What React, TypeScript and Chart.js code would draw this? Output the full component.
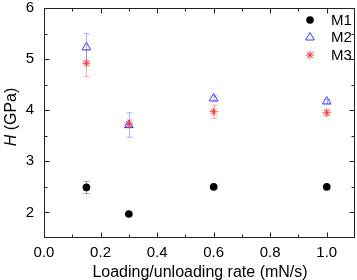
import React, { useEffect, useRef } from "react";
import { Chart, registerables } from "chart.js";

Chart.register(...registerables);

const rates = [0.15, 0.3, 0.6, 1.0];
const m1Values = [2.49, 1.97, 2.5, 2.5];
const m1Errors = [0.12, 0.03, 0.03, 0.03];
const m2Values = [5.23, 3.71, 4.23, 4.17];
const m2Errors = [0.27, 0.24, 0.05, 0.04];
const m3Values = [4.92, 3.73, 3.97, 3.95];
const m3Errors = [0.26, 0.08, 0.13, 0.06];
const seriesNames = ["M1", "M2", "M3"];
const xTickValues = [0, 0.2, 0.4, 0.6, 0.8, 1.0];
const xMinorValues = [0.1, 0.3, 0.5, 0.7, 0.9];
const yTickValues = [2, 3, 4, 5, 6];
const yMinorValues = [2.5, 3.5, 4.5, 5.5];

const FONT = "'Liberation Sans', Arial, sans-serif";
const colors = {
  m1: "#000000",
  m2: "#3a3aff",
  m3: "#ff3030",
  m1Err: "rgba(90,90,90,0.55)",
  m2Err: "rgba(80,80,255,0.45)",
  m3Err: "rgba(255,80,80,0.45)",
};

const errorBarPlugin = {
  id: "errorBars",
  beforeDatasetsDraw(chart: any) {
    const { ctx, scales } = chart;
    const sets = [
      { v: m1Values, e: m1Errors, c: colors.m1Err },
      { v: m2Values, e: m2Errors, c: colors.m2Err },
      { v: m3Values, e: m3Errors, c: colors.m3Err },
    ];
    ctx.save();
    ctx.lineWidth = 1;
    sets.forEach((s) => {
      ctx.strokeStyle = s.c;
      rates.forEach((r, i) => {
        const x = Math.round(scales.x.getPixelForValue(r)) + 0.5;
        const y1 = scales.y.getPixelForValue(s.v[i] + s.e[i]);
        const y2 = scales.y.getPixelForValue(s.v[i] - s.e[i]);
        ctx.beginPath();
        ctx.moveTo(x, y1);
        ctx.lineTo(x, y2);
        ctx.moveTo(x - 3, y1);
        ctx.lineTo(x + 3, y1);
        ctx.moveTo(x - 3, y2);
        ctx.lineTo(x + 3, y2);
        ctx.stroke();
      });
    });
    ctx.restore();
  },
};

const framePlugin = {
  id: "frame",
  afterDraw(chart: any) {
    const { ctx, chartArea: a, scales } = chart;
    ctx.save();
    ctx.strokeStyle = "#222";
    ctx.lineWidth = 1;
    const L = Math.round(a.left) + 0.5;
    const R = Math.round(a.right) - 0.5;
    const T = Math.round(a.top) + 0.5;
    const B = Math.round(a.bottom) - 0.5;
    ctx.strokeRect(L, T, R - L, B - T);
    ctx.beginPath();
    const xt = (v: number, len: number) => {
      const x = Math.round(scales.x.getPixelForValue(v)) + 0.5;
      ctx.moveTo(x, B);
      ctx.lineTo(x, B - len);
      ctx.moveTo(x, T);
      ctx.lineTo(x, T + len);
    };
    const yt = (v: number, len: number) => {
      const y = Math.round(scales.y.getPixelForValue(v)) + 0.5;
      ctx.moveTo(L, y);
      ctx.lineTo(L + len, y);
      ctx.moveTo(R, y);
      ctx.lineTo(R - len, y);
    };
    xTickValues.forEach((v) => xt(v, 5));
    xMinorValues.forEach((v) => xt(v, 3));
    yTickValues.forEach((v) => yt(v, 5));
    yMinorValues.forEach((v) => yt(v, 3));
    ctx.stroke();

    // axis titles
    ctx.fillStyle = "#000";
    ctx.textBaseline = "alphabetic";
    ctx.textAlign = "center";
    ctx.font = `16px ${FONT}`;
    ctx.fillText("Loading/unloading rate (mN/s)", 200, 277);

    ctx.save();
    ctx.translate(15.5, 117);
    ctx.rotate(-Math.PI / 2);
    ctx.font = `italic 16px ${FONT}`;
    const hW = ctx.measureText("H").width;
    ctx.font = `16px ${FONT}`;
    const restW = ctx.measureText(" (GPa)").width;
    const start = -(hW + restW) / 2;
    ctx.textAlign = "left";
    ctx.font = `italic 16px ${FONT}`;
    ctx.fillText("H", start, 0);
    ctx.font = `16px ${FONT}`;
    ctx.fillText(" (GPa)", start + hW, 0);
    ctx.restore();

    // legend
    const mx = 310;
    const rows = [20, 37.5, 55];
    ctx.font = `15px ${FONT}`;
    ctx.textAlign = "left";
    ctx.textBaseline = "middle";
    rows.forEach((ry, i) => {
      ctx.fillStyle = "#000";
      ctx.fillText(seriesNames[i], 331, ry + 0.5);
    });
    ctx.fillStyle = colors.m1;
    ctx.beginPath();
    ctx.arc(mx, rows[0], 3.8, 0, Math.PI * 2);
    ctx.fill();
    ctx.strokeStyle = colors.m2;
    ctx.beginPath();
    const r = 5;
    ctx.moveTo(mx, rows[1] - r);
    ctx.lineTo(mx + r * Math.sin(Math.PI * 2 / 3), rows[1] + r / 2);
    ctx.lineTo(mx - r * Math.sin(Math.PI * 2 / 3), rows[1] + r / 2);
    ctx.closePath();
    ctx.stroke();
    ctx.strokeStyle = colors.m3;
    ctx.beginPath();
    const s = 4;
    const d = s * Math.SQRT1_2;
    ctx.moveTo(mx - s, rows[2]);
    ctx.lineTo(mx + s, rows[2]);
    ctx.moveTo(mx, rows[2] - s);
    ctx.lineTo(mx, rows[2] + s);
    ctx.moveTo(mx - d, rows[2] - d);
    ctx.lineTo(mx + d, rows[2] + d);
    ctx.moveTo(mx - d, rows[2] + d);
    ctx.lineTo(mx + d, rows[2] - d);
    ctx.stroke();
    ctx.restore();
  },
};

export default function App() {
  const ref = useRef<HTMLCanvasElement>(null);
  useEffect(() => {
    if (!ref.current) return;
    const mk = (vals: number[]) => rates.map((x, i) => ({ x, y: vals[i] }));
    const chart = new Chart(ref.current, {
      type: "scatter",
      data: {
        datasets: [
          {
            label: seriesNames[0],
            data: mk(m1Values),
            pointStyle: "circle",
            pointRadius: 3.8,
            pointBorderWidth: 0,
            backgroundColor: colors.m1,
            borderColor: colors.m1,
            order: 2,
          },
          {
            label: seriesNames[1],
            data: mk(m2Values),
            pointStyle: "triangle",
            pointRadius: 5,
            pointBorderWidth: 1,
            backgroundColor: "rgba(0,0,0,0)",
            borderColor: colors.m2,
            order: 1,
          },
          {
            label: seriesNames[2],
            data: mk(m3Values),
            pointStyle: "star",
            pointRadius: 4,
            pointBorderWidth: 1,
            backgroundColor: colors.m3,
            borderColor: colors.m3,
            order: 0,
          },
        ],
      },
      options: {
        animation: false,
        responsive: false,
        maintainAspectRatio: false,
        layout: { padding: { left: 0, top: 8, right: 0, bottom: 0 } },
        plugins: { legend: { display: false }, tooltip: { enabled: false } },
        scales: {
          x: {
            type: "linear",
            min: 0,
            max: 1.1,
            grid: { display: false, drawTicks: false },
            border: { display: false },
            afterBuildTicks: (sc: any) => {
              sc.ticks = xTickValues.map((v) => ({ value: v }));
            },
            afterFit: (sc: any) => {
              sc.height = 42;
              sc.paddingLeft = 0;
              sc.paddingRight = 0;
            },
            ticks: {
              padding: 6,
              color: "#000",
              font: { size: 15, family: FONT },
              callback: (v: any) => Number(v).toFixed(1),
              maxRotation: 0,
            },
          },
          y: {
            type: "linear",
            min: 1.5,
            max: 6,
            grid: { display: false, drawTicks: false },
            border: { display: false },
            afterBuildTicks: (sc: any) => {
              sc.ticks = yTickValues.map((v) => ({ value: v }));
            },
            afterFit: (sc: any) => {
              sc.width = 44;
              sc.paddingTop = 0;
              sc.paddingBottom = 0;
            },
            ticks: {
              padding: 10,
              color: "#000",
              font: { size: 15, family: FONT },
              callback: (v: any) => String(v),
            },
          },
        },
      },
      plugins: [errorBarPlugin, framePlugin],
    } as any);
    return () => chart.destroy();
  }, []);
  return (
    <div style={{ position: "absolute", left: 0, top: 0, width: 357, height: 280, overflow: "hidden", background: "#fff" }}>
      <canvas ref={ref} width={361} height={280} style={{ width: 361, height: 280, display: "block" }} />
    </div>
  );
}
